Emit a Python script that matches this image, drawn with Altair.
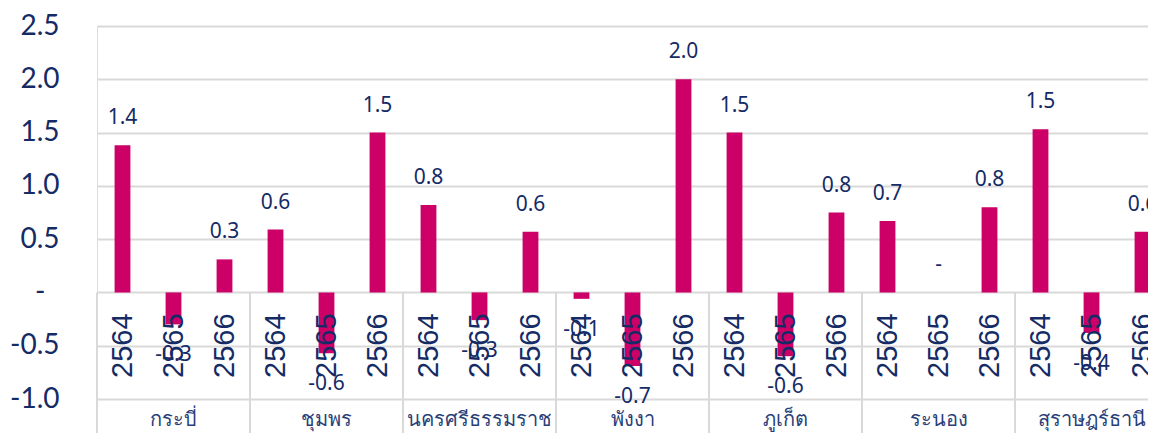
import altair as alt
import pandas as pd

provinces = ["กระบี่", "ชุมพร", "นครศรีธรรมราช", "พังงา", "ภูเก็ต", "ระนอง", "สุราษฎร์ธานี"]
years = ["2564", "2565", "2566"]
values = [
    [1.38, -0.30, 0.31],
    [0.59, -0.57, 1.50],
    [0.82, -0.26, 0.57],
    [-0.06, -0.69, 2.00],
    [1.50, -0.60, 0.75],
    [0.67, 0.00, 0.80],
    [1.53, -0.38, 0.57],
]
y_ticks = [-1.0, -0.5, 0.0, 0.5, 1.0, 1.5, 2.0, 2.5]

rows = []
for p, vals in zip(provinces, values):
    for yr, v in zip(years, vals):
        rows.append({"province": p, "year": yr, "key": p + "|" + yr, "value": v})
df = pd.DataFrame(rows)
order = list(df["key"])

first_keys = pd.DataFrame({"key": [p + "|" + years[0] for p in provinces]})
mid_keys = pd.DataFrame({"key": [p + "|" + years[1] for p in provinces], "province": provinces})

NAVY = "#142B66"
GRID = "#D9D9D9"
BAR = "#CC0066"

x_scale = alt.Scale(domain=order, paddingInner=0, paddingOuter=0)
y_scale = alt.Scale(domain=[-1.0, 2.5], range=[373, 0], nice=False, zero=False)

base = alt.Chart(df)

def X(**kw):
    return alt.X("key:N", scale=x_scale, axis=None, sort=order, **kw)

bars = base.mark_bar(color=BAR, width={"band": 0.31}).encode(
    x=X(),
    y=alt.Y("value:Q", scale=y_scale,
            axis=alt.Axis(values=y_ticks, grid=True, gridColor=GRID, gridWidth=2,
                          ticks=False, domain=False, labelFontSize=28, labelColor=NAVY,
                          labelFont="Lato",
                          labelPadding={"condition": {"test": "datum.value === 0", "value": 52}, "value": 38},
                          labelExpr="datum.value == 0 ? '-' : replace(format(datum.value, '.1f'), '\u2212', '-')",
                          title=None)),
    y2=alt.datum(0),
)

pos_labels = base.transform_filter("datum.value >= 0").transform_calculate(
    lbl="datum.value == 0 ? '-' : format(datum.value, '.1f')"
).mark_text(
    baseline="bottom", dy=-17, fontSize=21, color=NAVY, font="Noto Sans"
).encode(
    x=X(),
    y=alt.Y("value:Q", scale=y_scale),
    text=alt.Text("lbl:N"),
)

neg_labels = base.transform_filter("datum.value < 0").transform_calculate(
    lbl="replace(format(datum.value, '.1f'), '\u2212', '-')"
).mark_text(
    baseline="top", dy=20, fontSize=21, color=NAVY, font="Noto Sans"
).encode(
    x=X(),
    y=alt.Y("value:Q", scale=y_scale),
    text=alt.Text("lbl:N"),
)

year_labels = base.mark_text(
    angle=270, align="center", baseline="middle", fontSize=29, color=NAVY, font="Liberation Sans"
).encode(
    x=X(),
    y=alt.datum(-0.5, scale=y_scale),
    text="year:N",
)

seps = alt.Chart(first_keys).mark_rule(color=GRID, strokeWidth=2).encode(
    x=X(bandPosition=0),
    y=alt.datum(0, scale=y_scale),
    y2=alt.value(430),
)

prov_labels = alt.Chart(mid_keys).mark_text(
    align="center", baseline="middle", fontSize=20, color="#2A3F7A", font="Noto Sans"
).encode(
    x=X(bandPosition=0.5),
    y=alt.datum(-1.2, scale=y_scale),
    text="province:N",
)

chart = alt.layer(bars, seps, pos_labels, neg_labels, year_labels, prov_labels).properties(
    width=1071, height=407,
    autosize=alt.AutoSizeParams(type="none"),
    padding={"left": 89, "top": 18, "right": -20, "bottom": 0},
).configure_view(stroke=None).configure(background="white")

chart.save("out.html", embed_options={"renderer": "svg", "actions": False})
